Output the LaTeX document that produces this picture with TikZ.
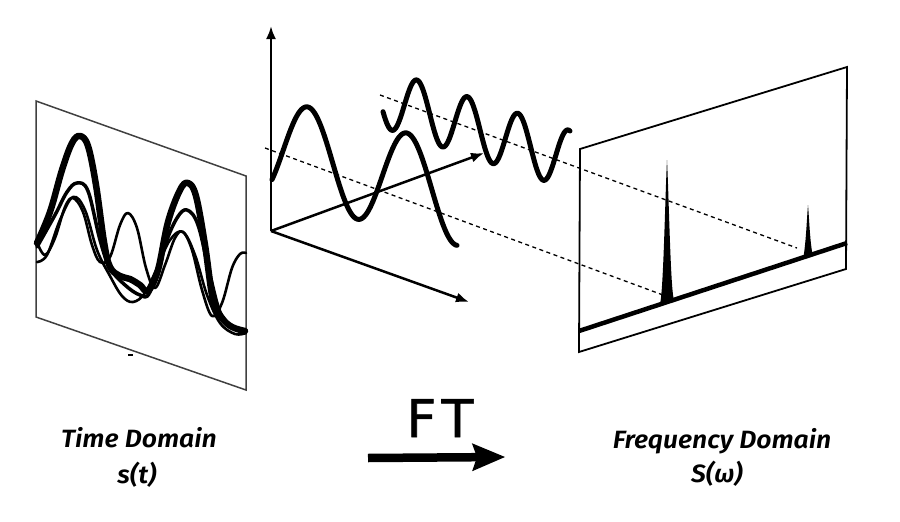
\documentclass[tikz,border=0pt]{standalone}
\usepackage{fontspec}
\newfontfamily\lblfont{Fira Sans SemiBold Italic}[FakeStretch=1.06]
\newfontfamily\ftfont{DejaVu Sans}[LetterSpace=12,FakeBold=1.2]
\usetikzlibrary{arrows.meta}
\begin{document}
\begin{tikzpicture}[x=1pt,y=-1pt,
  panelL/.style={draw=black!75,line width=1.5pt,line join=miter},
  panelR/.style={draw=black,line width=1.8pt,line join=miter},
  sigthick/.style={line width=6.5pt,line cap=round,line join=round},
  sigmed/.style={line width=3.5pt,line cap=round,line join=round},
  sigthin/.style={line width=2.6pt,line cap=round,line join=round},
  wave/.style={line width=5pt,line cap=round,line join=round},
  axis/.style={line width=2.5pt,-{Latex[length=13pt,width=10pt]}},
  proj/.style={line width=1.3pt,dash pattern=on 4pt off 3.5pt},
  lbl/.style={font=\lblfont\fontsize{25}{27}\selectfont,inner sep=0pt},
  ftlbl/.style={font=\ftfont\fontsize{52}{54}\selectfont,inner sep=0pt}
]
\useasboundingbox (0,0) rectangle (900,522);

% ---------------- left panel (time domain)
\coordinate (L1) at (36,101);
\coordinate (L2) at (246,176);
\coordinate (L3) at (246,390);
\coordinate (L4) at (36,317);
\draw[panelL] (L1) -- (L2) -- (L3) -- (L4) -- cycle;
\draw[line width=1.5pt] (128,355) -- (133,355);

% low-frequency thin curve
\draw[sigthin] plot[smooth,tension=0.6] coordinates {
 (37,262) (47,255) (60,220) (73,197) (85,210) (97,250) (110,276) (122,296)
 (133,302) (145,293) (157,268) (170,240) (183,232) (195,255) (207,295)
 (220,323) (235,334) (246,333)};
% high-frequency thin curve
\draw[sigthin] plot[smooth,tension=0.6] coordinates {
 (37,242) (45,255) (55,238) (65,207) (73,198) (83,212) (92,245) (100,262)
 (110,257) (120,225) (128,213) (137,228) (146,268) (155,288) (165,265)
 (175,238) (183,232) (192,250) (202,290) (212,316) (222,303) (232,268)
 (240,254) (246,253)};
% medium curve
\draw[sigmed] plot[smooth,tension=0.6] coordinates {
 (37,247) (55,215) (67,192) (77,183) (88,191) (100,240) (110,268) (125,285)
 (140,295) (150,292) (165,245) (177,218) (187,210) (198,225) (210,275)
 (220,312) (232,327) (245,333)};
% thick curve
\draw[sigthick] plot[smooth,tension=0.6] coordinates {
 (37,243) (50,212) (62,170) (72,143) (80,136) (88,146) (96,185) (104,242)
 (110,267) (120,276) (130,279) (140,285) (148,291) (158,270) (168,222)
 (180,190) (188,183) (196,196) (205,245) (213,300) (222,318) (232,327)
 (245,331)};

% ---------------- middle: axes and waves
\coordinate (O) at (271,231);
\coordinate (Aup) at (271,26);
\coordinate (Ax) at (469,302);
\coordinate (Az) at (484,153);
\draw[axis] (O) -- (Aup);
\draw[axis] (O) -- (Ax);
\draw[axis] (O) -- (Az);

% projection lines
\coordinate (P1s) at (380,95);
\coordinate (P1e) at (797,248);
\coordinate (P2s) at (265,148);
\coordinate (P2e) at (663,295);
\draw[proj] (P1s) -- (P1e);
\draw[proj] (P2s) -- (P2e);

% low-frequency wave
\draw[wave] plot[domain=272:457,samples=140]
  (\x,{156.6+0.263*(\x-308)-49.6*cos(3.63636*(\x-308))});
% high-frequency wave
\draw[wave] plot[domain=383:570,samples=160]
  (\x,{109.3+0.33*(\x-417)-29.3*cos(7.12871*(\x-417))});

% ---------------- right panel (frequency domain)
\coordinate (R1) at (580,149);
\coordinate (R2) at (847,67);
\coordinate (R3) at (846,269);
\coordinate (R4) at (579,352);
\draw[panelR] (R1) -- (R2) -- (R3) -- (R4) -- cycle;
\coordinate (B1) at (579,331);
\coordinate (B2) at (847,243);
\draw[line width=4.5pt] (B1) -- (B2);
% spikes
\fill (660,304) .. controls (663.5,290) and (665,200) .. (667,160)
  .. controls (669,200) and (670.5,290) .. (674,300) -- cycle;
\fill (803,259) .. controls (806,245) and (807,215) .. (808,205)
  .. controls (809,215) and (810,245) .. (813,256) -- cycle;

% ---------------- labels
\node[lbl,anchor=base] (td) at (139,447) {Time Domain};
\node[lbl,anchor=base] (st) at (137,483) {s(t)};
\node[lbl,anchor=base] (fd) at (722,448) {Frequency Domain};
\node[lbl,anchor=base] (sw) at (717,482) {S(ω)};
\node[ftlbl,anchor=base] (ft) at (440,437) {FT};
\coordinate (ftS) at (368,458);
\coordinate (ftE) at (505,457);
\draw[line width=8.5pt,-{Stealth[length=33pt,width=28pt,inset=5pt,line width=0pt]}] (ftS) -- (ftE);
\end{tikzpicture}
\end{document}
